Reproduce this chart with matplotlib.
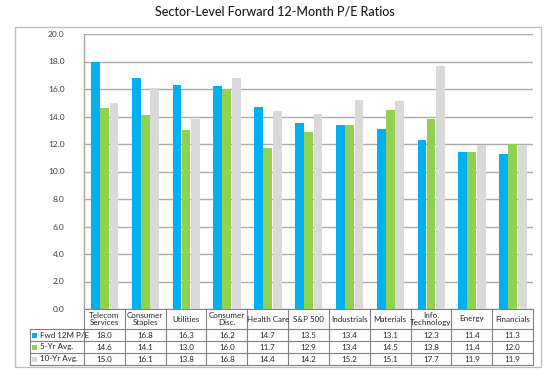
import matplotlib
matplotlib.use("Agg")
import matplotlib.pyplot as plt
from matplotlib.patches import Rectangle
from matplotlib.lines import Line2D
import matplotlib.transforms as mtransforms
import numpy as np

plt.rcParams['font.family'] = ['Lato', 'DejaVu Sans']

categories = ["Telecom\nServices", "Consumer\nStaples", "Utilities", "Consumer\nDisc.",
              "Health Care", "S&P 500", "Industrials", "Materials", "Info.\nTechnology",
              "Energy", "Financials"]
fwd_pe = [18.0, 16.8, 16.3, 16.2, 14.7, 13.5, 13.4, 13.1, 12.3, 11.4, 11.3]
avg_5yr = [14.6, 14.1, 13.0, 16.0, 11.7, 12.9, 13.4, 14.5, 13.8, 11.4, 12.0]
avg_10yr = [15.0, 16.1, 13.8, 16.8, 14.4, 14.2, 15.2, 15.1, 17.7, 11.9, 11.9]
series_names = ["Fwd 12M P/E", "5-Yr Avg.", "10-Yr Avg."]
yticks = [0, 2, 4, 6, 8, 10, 12, 14, 16, 18, 20]

colors = ["#00B0F0", "#92D050", "#D9D9D9"]
W, H = 550, 371
fig = plt.figure(figsize=(W / 100, H / 100), dpi=100)

def fx(px):
    return px / W

def fy(py):
    return 1 - py / H

ax_left, ax_right, ax_top, ax_bot = 84, 533, 34, 309
ax = fig.add_axes([fx(ax_left), fy(ax_bot), fx(ax_right - ax_left), (ax_bot - ax_top) / H])

x = np.arange(len(categories))
offsets = [-0.22, 0.0, 0.235]
width = 0.215
for vals, off, c in zip([fwd_pe, avg_5yr, avg_10yr], offsets, colors):
    ax.bar(x + off, vals, width=width, color=c, zorder=3, linewidth=0)

ax.set_xlim(-0.5, len(categories) - 0.5)
ax.set_ylim(0, 20)
ax.set_yticks(yticks)
ax.set_yticklabels([f"{v:.1f}" for v in yticks], fontsize=6, color="#404040")
ax.tick_params(axis='y', length=0, pad=14)
ax.set_xticks([])
ax.grid(axis='y', color="#ABABAB", linewidth=1.0, zorder=0)
for s in ["top", "right", "bottom"]:
    ax.spines[s].set_visible(False)
ax.spines["left"].set_color("#A6A6A6")
ax.spines["left"].set_linewidth(1.0)

# Table below axes
trans = mtransforms.blended_transform_factory(ax.transData, ax.transAxes)
axh = ax_bot - ax_top

def yf(py):
    return (ax_bot - py) / axh

row_edges = [309, 329, 341, 353, 365]
label_left = (30 - ax_left) / ((ax_right - ax_left) / len(categories)) - 0.5
lc = "#808080"
lw = 0.8
ax.add_line(Line2D([-0.5, len(categories) - 0.5], [yf(309)] * 2, transform=trans,
                   color=lc, lw=lw, clip_on=False))
for py in row_edges[1:]:
    ax.add_line(Line2D([label_left, len(categories) - 0.5], [yf(py)] * 2, transform=trans,
                       color=lc, lw=lw, clip_on=False))
for k in range(len(categories) + 1):
    ax.add_line(Line2D([k - 0.5, k - 0.5], [yf(309), yf(365)], transform=trans,
                       color=lc, lw=lw, clip_on=False))
ax.add_line(Line2D([label_left, label_left], [yf(329), yf(365)], transform=trans,
                   color=lc, lw=lw, clip_on=False))

for i, cat in enumerate(categories):
    ax.text(i, yf(319), cat, transform=trans, ha='center', va='center', fontsize=5.8,
            color="#262626", linespacing=1.05, clip_on=False)

for r, (vals, name, c) in enumerate(zip([fwd_pe, avg_5yr, avg_10yr], series_names, colors)):
    ymid = yf((row_edges[r + 1] + row_edges[r + 2]) / 2)
    for i, v in enumerate(vals):
        ax.text(i, ymid, f"{v:.1f}", transform=trans, ha='center', va='center',
                fontsize=5.8, color="#262626", clip_on=False)
    fig.patches.append(Rectangle((fx(32), fy((row_edges[r + 1] + row_edges[r + 2]) / 2 + 2.5)),
                                 fx(5), 5 / H, transform=fig.transFigure,
                                 facecolor=c, edgecolor='none'))
    fig.text(fx(40), fy((row_edges[r + 1] + row_edges[r + 2]) / 2), name,
             ha='left', va='center', fontsize=5.8, color="#262626")

fig.patches.append(Rectangle((fx(15), fy(367)), fx(541 - 15), (367 - 27) / H,
                             transform=fig.transFigure, facecolor='none',
                             edgecolor="#BFBFBF", linewidth=1.0))

fig.text(0.5, fy(12), "Sector-Level Forward 12-Month P/E Ratios", ha='center', va='center',
         fontsize=9, color="#1a1a1a", fontweight='medium')

fig.savefig("out.png", dpi=100)
